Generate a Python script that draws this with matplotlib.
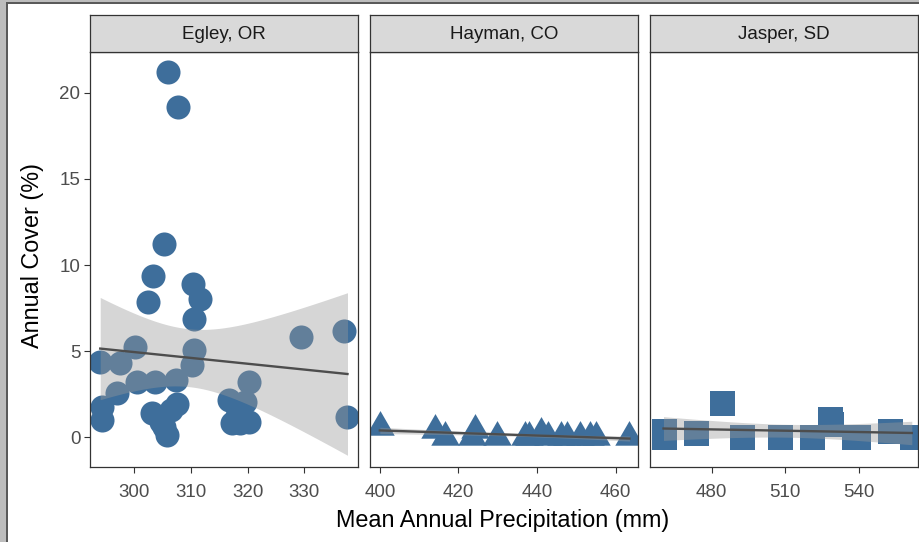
import numpy as np
import matplotlib.pyplot as plt
from matplotlib.patches import Rectangle
from matplotlib.path import Path

plt.rcParams['font.family'] = ['Liberation Sans', 'DejaVu Sans']

# Egley, OR
egley_x = [306.0, 307.8, 305.3, 303.3, 302.5, 310.4, 311.6, 310.5, 300.2, 310.5,
           294.0, 297.5, 310.2, 329.4, 337.0, 300.5, 303.7, 307.3, 320.2, 297.0,
           294.3, 294.3, 316.7, 319.6, 303.1, 304.8, 305.8, 307.6, 306.5, 317.3,
           320.2, 337.6, 318.6, 305.2, 318.2]
egley_y = [21.2, 19.2, 11.2, 9.38, 7.83, 8.88, 8.02, 6.84, 5.25, 5.06,
           4.38, 4.28, 4.19, 5.83, 6.18, 3.22, 3.22, 3.31, 3.22, 2.54,
           1.76, 0.99, 2.15, 2.05, 1.37, 0.9, 0.12, 1.9, 1.6, 0.79,
           0.89, 1.18, 0.8, 0.6, 1.2]

# Hayman, CO
hayman_x = [400.0, 414.0, 416.5, 424.2, 423.5, 429.7, 436.9, 438.0, 441.1, 442.8,
            446.2, 447.5, 450.9, 453.4, 455.0, 463.5]
hayman_y = [0.6, 0.41, 0.0, 0.41, 0.0, 0.02, 0.02, 0.02, 0.21, 0.02,
            0.02, 0.02, 0.02, 0.02, 0.02, 0.02]

# Jasper, SD
jasper_x = [460.4, 460.4, 473.7, 484.1, 492.3, 507.8, 520.9, 528.3, 528.8, 537.8,
            539.4, 552.5, 561.5]
jasper_y = [0.38, 0.0, 0.21, 2.0, 0.0, 0.0, 0.0, 1.05, 0.75, 0.0,
            0.0, 0.36, 0.0]

sites = ['Egley, OR', 'Hayman, CO', 'Jasper, SD']
xs = [egley_x, hayman_x, jasper_x]
ys = [egley_y, hayman_y, jasper_y]

# triangle centred on its centroid, like R's filled triangle symbol
tri = Path([(0, 1), (-0.866, -0.5), (0.866, -0.5), (0, 1)],
           [Path.MOVETO, Path.LINETO, Path.LINETO, Path.CLOSEPOLY])
markers = ['o', tri, 's']
sizes = [300, 560, 324]
xlims = [(292.2, 339.4), (397.5, 465.6), (454.9, 563.9)]
xticks = [[300, 310, 320, 330], [400, 420, 440, 460], [480, 510, 540]]

pt_col = '#3E6E9B'
edge_col = '#333333'
W, H = 920, 542


def lm_band(x, y, n_grid=80):
    # ordinary least squares with 95% confidence band, as geom_smooth(method='lm')
    x = np.asarray(x)
    y = np.asarray(y)
    n = len(x)
    b, a = np.polyfit(x, y, 1)
    resid = y - (a + b * x)
    s = np.sqrt(np.sum(resid ** 2) / (n - 2))
    sxx = np.sum((x - x.mean()) ** 2)
    df = n - 2
    z = 1.959964
    t = z + (z ** 3 + z) / (4 * df) + (5 * z ** 5 + 16 * z ** 3 + 3 * z) / (96 * df ** 2)
    g = np.linspace(x.min(), x.max(), n_grid)
    fit = a + b * g
    se = s * np.sqrt(1 / n + (g - x.mean()) ** 2 / sxx)
    return g, fit, fit - t * se, fit + t * se


fig = plt.figure(figsize=(W / 100, H / 100), dpi=100)

# screenshot frame at the left and top
fig.patches.append(Rectangle((0, 0), 6 / W, 1, transform=fig.transFigure,
                             facecolor='#BDBDBD', edgecolor='none', zorder=0))
fig.patches.append(Rectangle((0, 1 - 2 / H), 1, 2 / H, transform=fig.transFigure,
                             facecolor='#BDBDBD', edgecolor='none', zorder=0))
fig.patches.append(Rectangle((6 / W, 0), 2 / W, 1 - 2 / H, transform=fig.transFigure,
                             facecolor='#5A5A5A', edgecolor='none', zorder=0))
fig.patches.append(Rectangle((6 / W, 1 - 4 / H), 1, 2 / H, transform=fig.transFigure,
                             facecolor='#5A5A5A', edgecolor='none', zorder=0))

lefts = [90, 370, 650]
pw = 267.7
top, bottom, strip_top = 52, 467, 15

for i in range(3):
    ax = fig.add_axes([lefts[i] / W, (H - bottom) / H, pw / W, (bottom - top) / H])
    ax.scatter(xs[i], ys[i], s=sizes[i], marker=markers[i], color=pt_col,
               linewidths=0, zorder=2)
    g, fit, lo, hi = lm_band(xs[i], ys[i])
    ax.fill_between(g, lo, hi, color='#999999', alpha=0.4, linewidth=0, zorder=3)
    ax.plot(g, fit, color='#4D4D4D', lw=1.7, zorder=4)
    ax.set_xlim(*xlims[i])
    ax.set_ylim(-1.74, 22.38)
    ax.set_xticks(xticks[i])
    ax.set_yticks([0, 5, 10, 15, 20])
    ax.tick_params(colors='#333333', labelcolor='#4D4D4D', labelsize=13.5,
                   length=4, width=0.8)
    ax.tick_params(axis='x', pad=8)
    ax.tick_params(axis='y', pad=3)
    if i > 0:
        ax.tick_params(axis='y', left=False, labelleft=False)
    for sp in ax.spines.values():
        sp.set_color(edge_col)
        sp.set_linewidth(0.9)

    sax = fig.add_axes([lefts[i] / W, (H - top) / H, pw / W, (top - strip_top) / H])
    sax.set_facecolor('#D9D9D9')
    sax.set_xticks([])
    sax.set_yticks([])
    for sp in sax.spines.values():
        sp.set_color(edge_col)
        sp.set_linewidth(0.9)
    sax.text(0.5, 0.48, sites[i], ha='center', va='center', fontsize=13.5,
             color='#1A1A1A', transform=sax.transAxes)

fig.text(503 / W, 1 - 521 / H, 'Mean Annual Precipitation (mm)', ha='center',
         va='center', fontsize=16.8, color='#000000')
fig.text(33 / W, 1 - 256 / H, 'Annual Cover (%)', ha='center', va='center',
         rotation=90, fontsize=16.8, color='#000000')

fig.savefig('out.png', dpi=100)
